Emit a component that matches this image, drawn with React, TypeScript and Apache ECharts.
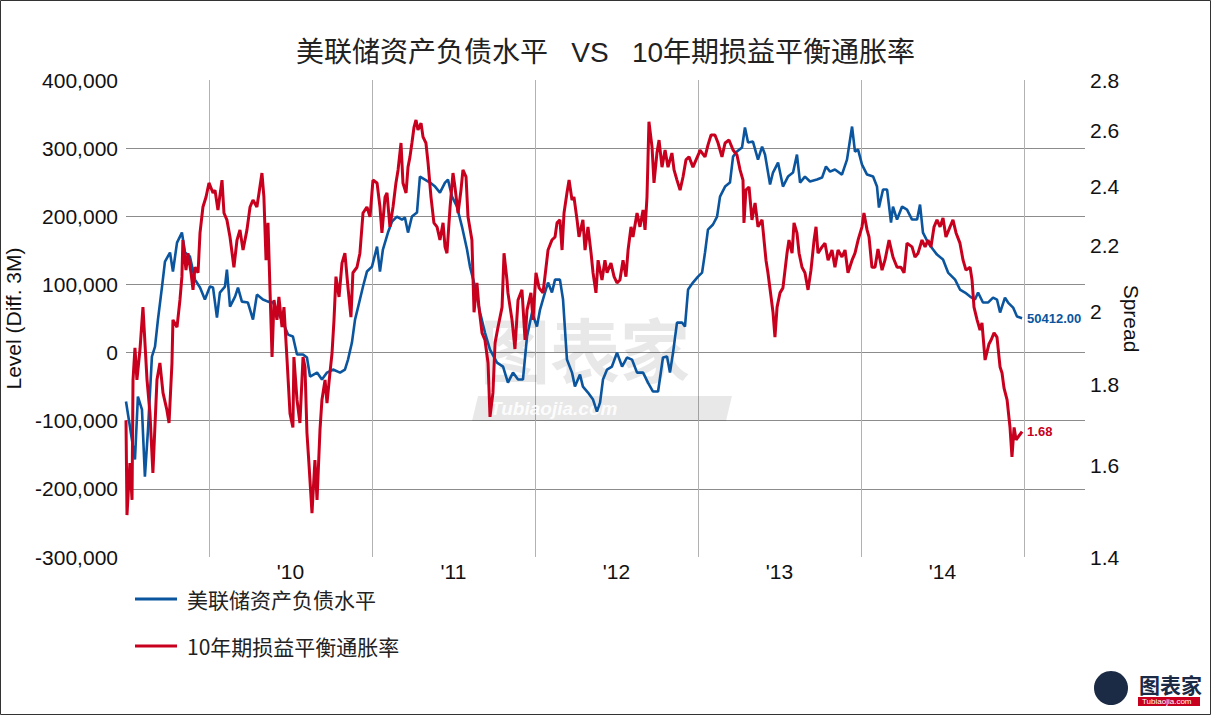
import { useEffect, useRef } from "react";
import * as echarts from "echarts";

const TITLE = "美联储资产负债水平   VS   10年期损益平衡通胀率";
const BLUE_NAME = "美联储资产负债水平";
const RED_NAME = "10年期损益平衡通胀率";
const LEFT_NAME = "Level (Diff. 3M)";
const RIGHT_NAME = "Spread";

const leftMin = -300000;
const leftMax = 400000;
const leftStep = 100000;
const rightTicks = [1.4, 1.6, 1.8, 2.0, 2.2, 2.4, 2.6, 2.8];
const yearLabels = [2010, 2011, 2012, 2013, 2014];
const xStart = 2009.491;
const xEnd = 2015.374;

// [decimal year, level]
const bluePoints: [number, number][] = [
  [2009.491, -71900], [2009.515, -108600], [2009.546, -157000], [2009.564, -64600], [2009.589, -83700],
  [2009.607, -182000], [2009.626, -113000], [2009.65, -5900], [2009.669, 8800], [2009.687, 48400],
  [2009.712, 96900], [2009.73, 133600], [2009.761, 146800], [2009.779, 118900], [2009.804, 161400],
  [2009.834, 176100], [2009.853, 146800], [2009.883, 140900], [2009.914, 107100], [2009.945, 95400],
  [2009.975, 77800],
  [2010.006, 96900], [2010.025, 95400], [2010.049, 51400], [2010.067, 88100], [2010.098, 96900],
  [2010.11, 121800], [2010.129, 67500], [2010.16, 82200], [2010.178, 95400], [2010.202, 74800],
  [2010.239, 73400], [2010.27, 48400], [2010.294, 85100], [2010.331, 77800], [2010.362, 74800],
  [2010.393, 73400], [2010.423, 58700], [2010.454, 44000], [2010.485, 26400], [2010.515, 23500],
  [2010.54, -2900], [2010.577, -2900], [2010.601, -7300], [2010.62, -35200], [2010.663, -29400],
  [2010.693, -39600], [2010.724, -29400], [2010.761, -24900], [2010.804, -29400], [2010.834, -24900],
  [2010.853, -10300], [2010.877, 14700], [2010.896, 48400], [2010.926, 77800], [2010.945, 96900],
  [2010.969, 118900],
  [2011.0, 126200], [2011.031, 155600], [2011.049, 118900], [2011.067, 151200], [2011.098, 176100],
  [2011.123, 192300], [2011.153, 199600], [2011.184, 195200], [2011.202, 198100], [2011.221, 176100],
  [2011.245, 199600], [2011.276, 205500], [2011.294, 258300], [2011.325, 253900], [2011.356, 249500],
  [2011.387, 243600], [2011.417, 234800], [2011.448, 249500], [2011.466, 253900], [2011.491, 228900],
  [2011.521, 214300], [2011.552, 184900], [2011.583, 151200], [2011.601, 126200], [2011.632, 96900],
  [2011.663, 58700], [2011.693, 29400], [2011.724, 4400], [2011.767, -14700], [2011.804, -20500],
  [2011.834, -44000], [2011.865, -29400], [2011.896, -39600], [2011.926, -39600], [2011.951, 23500],
  [2011.982, 58700],
  [2012.012, 38200], [2012.031, 63100], [2012.061, 88100], [2012.08, 102700], [2012.104, 88100],
  [2012.123, 107100], [2012.153, 107100], [2012.172, 77800], [2012.196, -10300], [2012.227, -29400],
  [2012.245, -49900], [2012.276, -32300], [2012.294, -49900], [2012.325, -58700], [2012.356, -69000],
  [2012.38, -86600], [2012.399, -73400], [2012.417, -39600], [2012.442, -24900], [2012.472, -20500],
  [2012.503, 0], [2012.534, -20500], [2012.564, -7300], [2012.595, -10300], [2012.626, -29400],
  [2012.663, -29400], [2012.693, -44000], [2012.724, -57200], [2012.755, -57200], [2012.785, -7300],
  [2012.81, -5900], [2012.828, -29400], [2012.847, 0], [2012.871, 44000], [2012.902, 44000],
  [2012.92, 38200], [2012.939, 92500], [2012.969, 102700],
  [2013.0, 111500], [2013.025, 117400], [2013.043, 146800], [2013.061, 180500], [2013.092, 187900],
  [2013.117, 199600], [2013.135, 228900], [2013.166, 243600], [2013.196, 249500], [2013.215, 287600],
  [2013.239, 295000], [2013.27, 300900], [2013.288, 330200], [2013.307, 308200], [2013.337, 309700],
  [2013.368, 283200], [2013.393, 302300], [2013.411, 290600], [2013.442, 246600], [2013.46, 264200],
  [2013.491, 278800], [2013.521, 243600], [2013.552, 258300], [2013.583, 264200], [2013.607, 290600],
  [2013.626, 249500], [2013.656, 258300], [2013.687, 251000], [2013.73, 253900], [2013.761, 256800],
  [2013.785, 273000], [2013.81, 265600], [2013.84, 268600], [2013.883, 261200], [2013.914, 283200],
  [2013.945, 331700], [2013.963, 295000], [2013.982, 297900],
  [2014.006, 275900], [2014.037, 261200], [2014.074, 258300], [2014.098, 243600], [2014.11, 212800],
  [2014.135, 239200], [2014.16, 239200], [2014.184, 190800], [2014.196, 214300], [2014.221, 195200],
  [2014.252, 214300], [2014.282, 209900], [2014.313, 195200], [2014.344, 195200], [2014.362, 217200],
  [2014.38, 176100], [2014.411, 161400], [2014.442, 151200], [2014.466, 143800], [2014.503, 136500],
  [2014.534, 117400], [2014.577, 107100], [2014.607, 92500], [2014.638, 88100], [2014.669, 82200],
  [2014.699, 77800], [2014.718, 88100], [2014.748, 73400], [2014.779, 73400], [2014.81, 80700],
  [2014.834, 77800], [2014.853, 58700], [2014.883, 80700], [2014.902, 73400], [2014.933, 66000],
  [2014.957, 52800], [2014.988, 50412],
];

// [decimal year, breakeven spread]
const redPoints: [number, number][] = [
  [2009.491, 1.708], [2009.497, 1.488], [2009.515, 1.605], [2009.528, 1.521], [2009.534, 1.811],
  [2009.546, 1.897], [2009.558, 1.811], [2009.577, 1.894], [2009.595, 2.013], [2009.62, 1.811],
  [2009.638, 1.725], [2009.656, 1.582], [2009.681, 1.811], [2009.699, 1.856], [2009.718, 1.777],
  [2009.742, 1.733], [2009.755, 1.701], [2009.773, 1.856], [2009.779, 1.976], [2009.804, 1.955],
  [2009.822, 2.034], [2009.834, 2.104], [2009.84, 2.219], [2009.859, 2.124], [2009.871, 2.177],
  [2009.89, 2.116], [2009.902, 2.064], [2009.914, 2.133], [2009.933, 2.116], [2009.945, 2.242],
  [2009.963, 2.328], [2009.982, 2.362],
  [2010.0, 2.411], [2010.025, 2.376], [2010.037, 2.386], [2010.055, 2.318], [2010.08, 2.421],
  [2010.092, 2.308], [2010.11, 2.285], [2010.129, 2.229], [2010.153, 2.133], [2010.172, 2.219],
  [2010.19, 2.252], [2010.209, 2.187], [2010.233, 2.252], [2010.252, 2.328], [2010.27, 2.352],
  [2010.294, 2.328], [2010.307, 2.376], [2010.325, 2.446], [2010.337, 2.362], [2010.35, 2.155],
  [2010.362, 2.275], [2010.374, 2.07], [2010.387, 1.872], [2010.399, 2.034], [2010.417, 1.976],
  [2010.429, 2.043], [2010.448, 1.955], [2010.46, 2.013], [2010.479, 1.864], [2010.497, 1.725],
  [2010.515, 1.69], [2010.521, 1.872], [2010.54, 1.759], [2010.558, 1.701], [2010.577, 1.872],
  [2010.589, 1.845], [2010.601, 1.677], [2010.613, 1.605], [2010.632, 1.492], [2010.65, 1.612],
  [2010.663, 1.521], [2010.681, 1.684], [2010.693, 1.759], [2010.712, 1.811], [2010.724, 1.751],
  [2010.742, 1.829], [2010.755, 1.883], [2010.767, 1.976], [2010.779, 2.104], [2010.798, 2.043],
  [2010.816, 2.146], [2010.834, 2.177], [2010.853, 2.07], [2010.871, 1.984], [2010.883, 2.116],
  [2010.908, 2.133], [2010.926, 2.177], [2010.945, 2.308], [2010.969, 2.328], [2010.988, 2.295],
  [2011.006, 2.421], [2011.031, 2.411], [2011.049, 2.328], [2011.061, 2.242], [2011.08, 2.362],
  [2011.092, 2.376], [2011.11, 2.262], [2011.129, 2.328], [2011.147, 2.411], [2011.16, 2.457],
  [2011.178, 2.555], [2011.19, 2.411], [2011.209, 2.376], [2011.221, 2.467], [2011.233, 2.504],
  [2011.245, 2.555], [2011.258, 2.615], [2011.27, 2.642], [2011.282, 2.604], [2011.301, 2.63],
  [2011.313, 2.578], [2011.331, 2.555], [2011.344, 2.482], [2011.362, 2.362], [2011.38, 2.275],
  [2011.399, 2.262], [2011.417, 2.219], [2011.436, 2.275], [2011.448, 2.197], [2011.46, 2.177],
  [2011.479, 2.328], [2011.497, 2.446], [2011.509, 2.397], [2011.528, 2.308], [2011.546, 2.386],
  [2011.558, 2.457], [2011.577, 2.432], [2011.589, 2.295], [2011.613, 2.219], [2011.626, 1.998],
  [2011.644, 2.085], [2011.656, 2.013], [2011.675, 1.939], [2011.693, 1.919], [2011.712, 1.856],
  [2011.724, 1.716], [2011.742, 1.777], [2011.755, 1.911], [2011.773, 1.955], [2011.798, 2.013],
  [2011.81, 2.177], [2011.828, 2.094], [2011.834, 2.055], [2011.859, 1.976], [2011.877, 1.894],
  [2011.896, 2.034], [2011.92, 2.064], [2011.939, 1.919], [2011.951, 2.004], [2011.975, 2.055],
  [2011.988, 1.976],
  [2012.006, 2.116], [2012.025, 2.07], [2012.049, 2.055], [2012.061, 2.104], [2012.08, 2.187],
  [2012.104, 2.219], [2012.123, 2.229], [2012.135, 2.275], [2012.153, 2.285], [2012.166, 2.187],
  [2012.178, 2.308], [2012.196, 2.376], [2012.209, 2.421], [2012.227, 2.352], [2012.239, 2.362],
  [2012.258, 2.285], [2012.27, 2.229], [2012.294, 2.285], [2012.307, 2.187], [2012.325, 2.262],
  [2012.344, 2.177], [2012.356, 2.116], [2012.374, 2.055], [2012.387, 2.155], [2012.411, 2.094],
  [2012.429, 2.155], [2012.442, 2.116], [2012.466, 2.146], [2012.485, 2.104], [2012.503, 2.085],
  [2012.521, 2.094], [2012.54, 2.155], [2012.558, 2.104], [2012.571, 2.187], [2012.589, 2.262],
  [2012.601, 2.229], [2012.626, 2.308], [2012.644, 2.262], [2012.663, 2.318], [2012.675, 2.252],
  [2012.687, 2.362], [2012.693, 2.493], [2012.699, 2.635], [2012.718, 2.54], [2012.73, 2.411],
  [2012.748, 2.518], [2012.761, 2.566], [2012.779, 2.467], [2012.798, 2.529], [2012.816, 2.467],
  [2012.84, 2.518], [2012.853, 2.457], [2012.871, 2.421], [2012.89, 2.386], [2012.908, 2.432],
  [2012.926, 2.493], [2012.945, 2.504], [2012.969, 2.467], [2012.988, 2.493],
  [2013.006, 2.518], [2013.012, 2.529], [2013.043, 2.504], [2013.061, 2.547], [2013.08, 2.585],
  [2013.104, 2.585], [2013.123, 2.555], [2013.147, 2.504], [2013.166, 2.555], [2013.19, 2.566],
  [2013.215, 2.529], [2013.239, 2.511], [2013.258, 2.457], [2013.276, 2.421], [2013.282, 2.275],
  [2013.294, 2.386], [2013.313, 2.397], [2013.331, 2.285], [2013.35, 2.342], [2013.368, 2.262],
  [2013.393, 2.285], [2013.405, 2.219], [2013.417, 2.155], [2013.429, 2.116], [2013.448, 2.043],
  [2013.46, 1.998], [2013.472, 1.927], [2013.485, 2.013], [2013.503, 2.055], [2013.521, 2.07],
  [2013.546, 2.177], [2013.558, 2.219], [2013.577, 2.177], [2013.589, 2.275], [2013.607, 2.242],
  [2013.62, 2.177], [2013.638, 2.133], [2013.656, 2.116], [2013.675, 2.064], [2013.693, 2.124],
  [2013.712, 2.219], [2013.724, 2.262], [2013.736, 2.177], [2013.761, 2.197], [2013.779, 2.209],
  [2013.798, 2.155], [2013.822, 2.187], [2013.84, 2.133], [2013.859, 2.187], [2013.883, 2.165],
  [2013.902, 2.187], [2013.92, 2.116], [2013.945, 2.155], [2013.963, 2.177], [2013.982, 2.219],
  [2014.006, 2.262], [2014.018, 2.308], [2014.037, 2.252], [2014.049, 2.229], [2014.067, 2.133],
  [2014.086, 2.133], [2014.104, 2.19], [2014.129, 2.124], [2014.147, 2.155], [2014.172, 2.219],
  [2014.196, 2.165], [2014.221, 2.133], [2014.245, 2.133], [2014.264, 2.116], [2014.282, 2.209],
  [2014.313, 2.197], [2014.331, 2.165], [2014.35, 2.177], [2014.374, 2.219], [2014.393, 2.197],
  [2014.411, 2.219], [2014.429, 2.197], [2014.448, 2.262], [2014.466, 2.285], [2014.485, 2.262],
  [2014.503, 2.291], [2014.521, 2.229], [2014.546, 2.262], [2014.564, 2.285], [2014.583, 2.242],
  [2014.607, 2.209], [2014.626, 2.155], [2014.644, 2.124], [2014.669, 2.133], [2014.681, 2.094],
  [2014.693, 2.013], [2014.712, 1.976], [2014.73, 1.947], [2014.742, 1.967], [2014.761, 1.864],
  [2014.785, 1.908], [2014.798, 1.919], [2014.816, 1.939], [2014.834, 1.927], [2014.853, 1.845],
  [2014.865, 1.829], [2014.877, 1.79], [2014.896, 1.759], [2014.914, 1.69], [2014.926, 1.619],
  [2014.939, 1.69], [2014.951, 1.66], [2014.988, 1.68],
];

const BLUE = "#0a559e";
const RED = "#c8001e";
const LATIN = "'Liberation Sans', Arial, 'Noto Sans CJK SC', sans-serif";
const CJK = "'Noto Sans CJK SC', 'Liberation Sans', sans-serif";

export default function App() {
  const ref = useRef<HTMLDivElement>(null);

  useEffect(() => {
    if (!ref.current) return;
    const chart = echarts.init(ref.current, null, { renderer: "svg" });
    const option: any = {
      animation: false,
      backgroundColor: "#ffffff",
      textStyle: { fontFamily: LATIN },
      title: {
        text: TITLE,
        left: "center",
        top: 33,
        textStyle: { fontFamily: LATIN, fontSize: 28, fontWeight: "normal", color: "#222" },
      },
      grid: { left: 126, right: 126, top: 80, bottom: 158, outerBoundsMode: "none", containLabel: false },
      legend: {
        orient: "vertical",
        left: 130,
        top: 582,
        icon: "rect",
        itemWidth: 42,
        itemHeight: 3,
        itemGap: 23,
        data: [BLUE_NAME, RED_NAME],
        textStyle: {
          fontFamily: CJK,
          fontSize: 21,
          lineHeight: 24,
          color: "#222",
          padding: [0, 0, 0, 5],
        },
      },
      xAxis: [
        {
          type: "value",
          min: xStart,
          max: xEnd,
          minInterval: 1,
          maxInterval: 1,
          axisLine: { show: false },
          axisTick: { show: false },
          axisLabel: { show: false },
          splitLine: {
            show: true,
            showMinLine: false,
            showMaxLine: false,
            lineStyle: { color: "#b2b2b2", width: 1 },
          },
        },
        {
          type: "value",
          position: "bottom",
          min: xStart - 0.5,
          max: xEnd - 0.5,
          minInterval: 1,
          maxInterval: 1,
          axisLine: { show: false },
          axisTick: { show: false },
          splitLine: { show: false },
          axisLabel: {
            margin: 4,
            fontSize: 21,
            color: "#111",
            formatter: (v: number) =>
              yearLabels.includes(v) ? "'" + String(v).slice(2) : "",
          },
        },
      ],
      yAxis: [
        {
          type: "value",
          position: "left",
          min: leftMin,
          max: leftMax,
          interval: leftStep,
          axisLine: { show: false },
          axisTick: { show: false },
          axisLabel: {
            fontSize: 21,
            color: "#111",
            margin: 8,
            formatter: (v: number) => v.toLocaleString("en-US"),
          },
          splitLine: {
            show: true,
            showMinLine: false,
            showMaxLine: false,
            lineStyle: { color: "#8c8c8c", width: 1 },
          },
          name: LEFT_NAME,
          nameLocation: "middle",
          nameGap: 94,
          nameRotate: 90,
          nameTextStyle: { fontSize: 21, color: "#111" },
        },
        {
          type: "log",
          logBase: 10,
          position: "right",
          min: rightTicks[0],
          max: rightTicks[rightTicks.length - 1],
          axisLine: { show: false },
          axisTick: { show: false },
          axisLabel: { show: false },
          splitLine: { show: false },
          name: RIGHT_NAME,
          nameLocation: "middle",
          nameGap: 36,
          nameRotate: -90,
          nameTextStyle: { fontSize: 21, color: "#111" },
        },
      ],
      series: [
        {
          name: BLUE_NAME,
          type: "line",
          xAxisIndex: 0,
          yAxisIndex: 0,
          data: bluePoints,
          symbol: "none",
          z: 3,
          lineStyle: { color: BLUE, width: 2.6 },
          itemStyle: { color: BLUE },
          endLabel: {
            show: true,
            distance: 5,
            color: BLUE,
            fontSize: 13,
            fontWeight: "bold",
            formatter: (p: any) => Number(p.value[1]).toFixed(2),
          },
        },
        {
          name: RED_NAME,
          type: "line",
          xAxisIndex: 0,
          yAxisIndex: 1,
          data: redPoints,
          symbol: "none",
          z: 4,
          lineStyle: { color: RED, width: 3 },
          itemStyle: { color: RED },
          endLabel: {
            show: true,
            distance: 5,
            color: RED,
            fontSize: 13,
            fontWeight: "bold",
            formatter: (p: any) => Number(p.value[1]).toFixed(2),
          },
          markLine: {
            silent: true,
            symbol: ["none", "none"],
            animation: false,
            lineStyle: { color: "rgba(0,0,0,0)", width: 1, type: "solid" },
            emphasis: { disabled: true },
            label: {
              show: true,
              position: "end",
              distance: 5,
              color: "#111",
              fontSize: 21,
              fontFamily: LATIN,
              formatter: "{b}",
            },
            data: rightTicks.map((v) => ({ yAxis: v, name: String(v) })),
          },
        },
      ],
      graphic: [
        {
          type: "rect",
          z: 100,
          silent: true,
          shape: { x: 0.5, y: 0.5, width: 1210, height: 714 },
          style: { fill: "none", stroke: "#333", lineWidth: 1 },
        },
        {
          type: "text",
          z: 1,
          silent: true,
          left: 480,
          top: 312,
          style: {
            text: "图表家",
            fontFamily: CJK,
            fontSize: 70,
            fontWeight: "bold",
            fill: "rgba(0,0,0,0.09)",
          },
        },
        {
          type: "polygon",
          z: 1,
          silent: true,
          shape: { points: [[478, 396], [732, 396], [726, 421], [472, 421]] },
          style: { fill: "rgba(0,0,0,0.09)" },
        },
        {
          type: "text",
          z: 1,
          silent: true,
          left: 490,
          top: 399,
          style: {
            text: "Tubiaojia.com",
            fontFamily: LATIN,
            fontSize: 19,
            fontWeight: "bold",
            fontStyle: "italic",
            fill: "rgba(255,255,255,0.9)",
          },
        },
        {
          type: "circle",
          silent: true,
          shape: { cx: 1111, cy: 688, r: 17 },
          style: { fill: "#1b2a45" },
        },
        {
          type: "text",
          silent: true,
          left: 1139,
          top: 673,
          style: { text: "图表家", fontFamily: CJK, fontSize: 21, fontWeight: "bold", fill: "#1b2a45" },
        },
        {
          type: "rect",
          silent: true,
          shape: { x: 1138, y: 697, width: 62, height: 9 },
          style: { fill: "#c8001e" },
        },
        {
          type: "text",
          silent: true,
          left: 1142,
          top: 697,
          style: { text: "Tubiaojia.com", fontFamily: LATIN, fontSize: 8, fill: "#fff" },
        },
      ],
    };
    chart.setOption(option);
    return () => chart.dispose();
  }, []);

  return (
    <div
      ref={ref}
      style={{ position: "fixed", left: 0, top: 0, width: 1211, height: 715, background: "#fff" }}
    />
  );
}
